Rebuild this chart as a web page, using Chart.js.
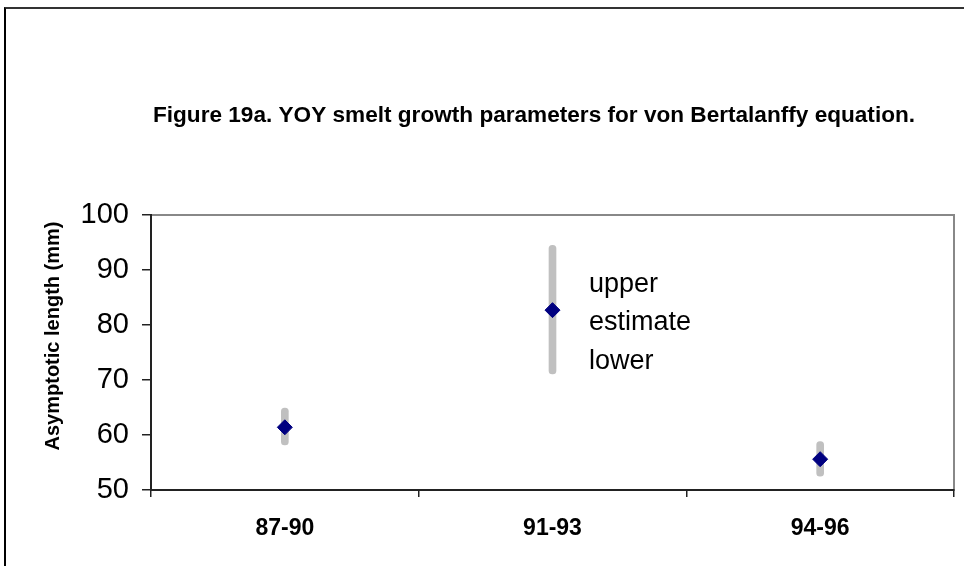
<!DOCTYPE html>
<html>
<head>
<meta charset="utf-8">
<title>Figure 19a</title>
<script src="https://cdn.jsdelivr.net/npm/chart.js@4.4.1/dist/chart.umd.min.js"></script>
<style>
  html, body { margin: 0; padding: 0; background: #fff; overflow: hidden; }
  #frame {
    position: absolute; left: 4px; top: 7px; width: 2000px; height: 2000px;
    border-left: 2px solid #000; border-top: 2px solid #333;
  }
  #chart { position: absolute; left: 0; top: 0; }
</style>
</head>
<body>
<div id="frame"></div>
<canvas id="chart" width="964" height="566"></canvas>
<script>
// Values
const periods = ["87-90", "91-93", "94-96"];
const upperValues = [64.9, 94.5, 58.8];
const estimateValues = [61.4, 82.7, 55.6];
const lowerValues = [58.2, 71.1, 52.5];
const yTicks = [50, 60, 70, 80, 90, 100];
const legendLabels = ["upper", "estimate", "lower"];
const chartTitle = "Figure 19a. YOY smelt growth parameters for von Bertalanffy equation.";
const yAxisTitle = "Asymptotic length (mm)";

const FONT = '"Liberation Sans", Arial, sans-serif';

// Frame around the plot area (gray top/right), axes draw over left/bottom
const plotFrame = {
  id: "plotFrame",
  beforeDraw(chart) {
    const { ctx, chartArea: a } = chart;
    ctx.save();
    ctx.strokeStyle = "#888";
    ctx.lineWidth = 2;
    ctx.strokeRect(a.left, a.top, a.right - a.left, a.bottom - a.top);
    ctx.restore();
  },
};

// Title, y axis title (sits a bit above the plot centre in the original)
// and the text-only legend inside the plot
const textBits = {
  id: "textBits",
  afterDraw(chart) {
    const { ctx, chartArea: a } = chart;
    ctx.save();
    ctx.fillStyle = "#000";
    ctx.textBaseline = "alphabetic";
    ctx.textAlign = "center";
    ctx.font = `bold 22.6px ${FONT}`;
    ctx.fillText(chartTitle, 534, 122);

    ctx.save();
    ctx.translate(53, 336);
    ctx.rotate(-Math.PI / 2);
    ctx.textBaseline = "middle";
    ctx.font = `bold 20px ${FONT}`;
    ctx.fillText(yAxisTitle, 0, 0);
    ctx.restore();

    ctx.textAlign = "left";
    ctx.font = `27px ${FONT}`;
    legendLabels.forEach((label, i) => {
      ctx.fillText(label, a.left + 438, a.top + 77 + i * 38.3);
    });
    ctx.restore();
  },
};

new Chart(document.getElementById("chart"), {
  type: "bar",
  data: {
    labels: periods,
    datasets: [
      {
        type: "line",
        label: "estimate",
        data: estimateValues,
        showLine: false,
        pointStyle: "rectRot",
        pointRadius: 7.5,
        pointBorderWidth: 1,
        pointBackgroundColor: "#000080",
        pointBorderColor: "#000080",
        order: 0,
      },
      {
        label: "range",
        data: periods.map((_, i) => [lowerValues[i], upperValues[i]]),
        backgroundColor: "#c0c0c0",
        barThickness: 7,
        borderRadius: 3.5,
        borderSkipped: false,
        grouped: false,
        order: 1,
      },
    ],
  },
  options: {
    responsive: false,
    animation: false,
    devicePixelRatio: 1,
    layout: { padding: { top: 215, right: 10, left: 0, bottom: 0 } },
    plugins: {
      legend: { display: false },
      tooltip: { enabled: false },
      title: { display: false },
    },
    scales: {
      x: {
        offset: true,
        grid: {
          offset: true,
          drawOnChartArea: false,
          tickLength: 7,
          color: "#222",
          lineWidth: 1.5,
        },
        border: { color: "#222", width: 2 },
        ticks: {
          color: "#000",
          padding: 18,
          font: { family: FONT, size: 23, weight: "bold" },
        },
        afterFit(scale) {
          scale.height = 76;
        },
      },
      y: {
        min: yTicks[0],
        max: yTicks[yTicks.length - 1],
        afterBuildTicks(scale) {
          scale.ticks = yTicks.map((v) => ({ value: v }));
        },
        grid: {
          drawOnChartArea: false,
          tickLength: 9,
          color: "#222",
          lineWidth: 1.5,
        },
        border: { color: "#222", width: 2 },
        ticks: {
          color: "#000",
          padding: 13,
          font: { family: FONT, size: 29 },
        },
        afterFit(scale) {
          scale.width = 151;
        },
      },
    },
  },
  plugins: [plotFrame, textBits],
});
</script>
</body>
</html>
